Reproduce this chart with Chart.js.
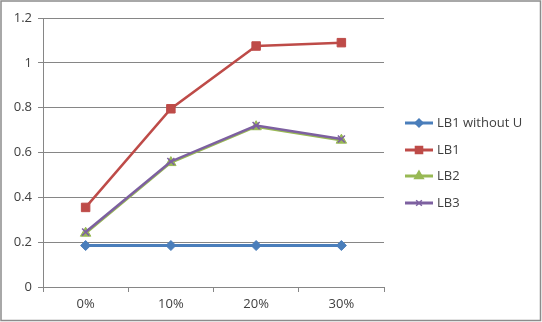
<!DOCTYPE html>
<html><head><meta charset="utf-8">
<script src="https://cdn.jsdelivr.net/npm/chart.js@4/dist/chart.umd.min.js"></script>
<style>html,body{margin:0;padding:0;background:#fff}#w{width:542px;height:322px;position:relative}</style>
</head><body><div id="w"><canvas id="c" width="542" height="322"></canvas></div>
<script>
const categories = ['0%', '10%', '20%', '30%'];
const seriesNames = ['LB1 without U', 'LB1', 'LB2', 'LB3'];
const lb1WithoutU = [0.185, 0.185, 0.185, 0.185];
const lb1 = [0.355, 0.795, 1.075, 1.09];
const lb2 = [0.24, 0.555, 0.715, 0.655];
const lb3 = [0.245, 0.56, 0.72, 0.66];
const yTicks = [0, 0.2, 0.4, 0.6, 0.8, 1, 1.2];

const colors = ['#4A7EBB', '#BE4B48', '#98B954', '#7D60A0'];
const styles = ['rectRot', 'rect', 'triangle', 'crossRot'];
const radii = [5, 6, 6, 5];
const FONT = '"Open Sans", "Liberation Sans", sans-serif';

const legendPlugin = {
  id: 'customLegend',
  afterDraw(chart) {
    const ctx = chart.ctx;
    const ys = [123, 150, 176, 203];
    chart.data.datasets.forEach((ds, i) => {
      const y = ys[i];
      ctx.save();
      ctx.strokeStyle = ds.borderColor;
      ctx.lineWidth = 3;
      ctx.beginPath(); ctx.moveTo(405, y); ctx.lineTo(433, y); ctx.stroke();
      ctx.fillStyle = ds.pointBackgroundColor;
      ctx.strokeStyle = ds.pointBorderColor;
      ctx.lineWidth = 1.5;
      Chart.helpers.drawPoint(ctx, {pointStyle: ds.pointStyle, radius: ds.pointRadius - 1, borderWidth: 1.5}, 419, y);
      ctx.fillStyle = '#404040';
      ctx.font = '13px ' + FONT;
      ctx.textBaseline = 'middle';
      ctx.fillText(ds.label, 437, y);
      ctx.restore();
    });
  }
};
const framePlugin = {
  id: 'frame',
  beforeDraw(chart) {
    const ctx = chart.ctx;
    ctx.save();
    ctx.fillStyle = '#fff';
    ctx.fillRect(0, 0, chart.width, chart.height);
    ctx.strokeStyle = '#8c8c8c';
    ctx.lineWidth = 1.5;
    ctx.strokeRect(1, 1, chart.width - 2.5, chart.height - 2.5);
    ctx.restore();
  }
};

const dataArrays = [lb1WithoutU, lb1, lb2, lb3];
const orders = [3, 2, 1, 0];
const widths = [3, 2.5, 2.5, 2.5];
const datasets = seriesNames.map((name, i) => ({
  label: name,
  data: dataArrays[i],
  borderColor: colors[i],
  backgroundColor: colors[i],
  pointBackgroundColor: colors[i],
  pointBorderColor: colors[i],
  pointStyle: styles[i],
  pointRadius: radii[i],
  pointBorderWidth: i === 3 ? 1.5 : 1,
  borderWidth: widths[i],
  tension: 0,
  order: orders[i]
}));

new Chart(document.getElementById('c'), {
  type: 'line',
  data: { labels: categories, datasets },
  options: {
    responsive: false,
    animation: false,
    devicePixelRatio: 1,
    layout: { padding: { top: 18, right: 158, left: 0, bottom: 0 } },
    plugins: { legend: { display: false }, tooltip: { enabled: false } },
    scales: {
      x: {
        offset: true,
        afterFit(s) { s.height = 35; },
        grid: { offset: true, drawOnChartArea: false, drawTicks: true, tickLength: 5, color: '#868686' },
        border: { color: '#868686', width: 1 },
        ticks: { color: '#404040', font: { family: FONT, size: 13 }, padding: 4 }
      },
      y: {
        min: 0, max: 1.2,
        afterFit(s) { s.width = 43; },
        afterBuildTicks(s) { s.ticks = yTicks.map(v => ({ value: v })); },
        grid: { color: '#868686', tickLength: 5 },
        border: { color: '#868686', width: 1 },
        ticks: { color: '#404040', font: { family: FONT, size: 13 }, padding: 6, callback: v => String(v) }
      }
    }
  },
  plugins: [framePlugin, legendPlugin]
});
</script></body></html>
